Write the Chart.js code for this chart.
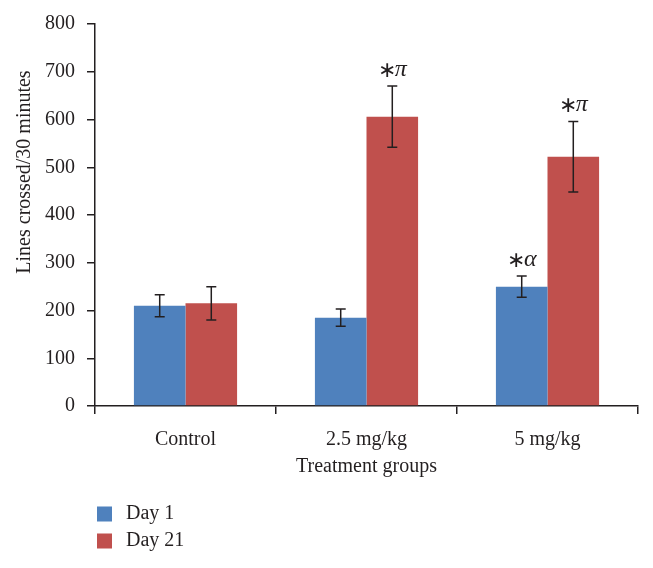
<!DOCTYPE html>
<html>
<head>
<meta charset="utf-8">
<script src="https://cdn.jsdelivr.net/npm/chart.js@4.4.1/dist/chart.umd.min.js"></script>
<style>
  html, body { margin: 0; padding: 0; background: #fff; }
  #wrap { width: 653px; height: 568px; position: relative; }
</style>
</head>
<body>
<div id="wrap"><canvas id="c" width="653" height="568"></canvas></div>
<script>
// ---- data ----
const categories = ['Control', '2.5 mg/kg', '5 mg/kg'];
const seriesNames = ['Day 1', 'Day 21'];
const day1 = [210, 185, 250];
const day1Err = [23, 18, 22];
const day21 = [215, 606, 522];
const day21Err = [35, 64, 74];
const day1Marks = ['', '', '∗α'];
const day21Marks = ['', '∗π', '∗π'];
const yTickValues = [0, 100, 200, 300, 400, 500, 600, 700, 800];
const yTitle = 'Lines crossed/30 minutes';
const xTitle = 'Treatment groups';

const BLUE = '#4F81BD';
const RED = '#C0504D';
const FONT = "'Liberation Serif', 'Times New Roman', serif";
const INK = '#231f20';

const errs = [day1Err, day21Err];
const marks = [day1Marks, day21Marks];

const overlay = {
  id: 'overlay',
  afterDatasetsDraw(chart) {
    const ctx = chart.ctx;
    const y = chart.scales.y;
    ctx.save();
    chart.data.datasets.forEach((ds, di) => {
      const meta = chart.getDatasetMeta(di);
      meta.data.forEach((bar, i) => {
        const v = ds.data[i], e = errs[di][i];
        const yt = y.getPixelForValue(v + e);
        const yb = y.getPixelForValue(v - e);
        const x = bar.x;
        ctx.strokeStyle = INK;
        ctx.lineWidth = 1.5;
        ctx.beginPath();
        ctx.moveTo(x, yt); ctx.lineTo(x, yb);
        ctx.moveTo(x - 5, yt); ctx.lineTo(x + 5, yt);
        ctx.moveTo(x - 5, yb); ctx.lineTo(x + 5, yb);
        ctx.stroke();
        const m = marks[di][i];
        if (m) {
          const star = m[0], greek = m.slice(1);
          ctx.fillStyle = INK;
          ctx.textBaseline = 'alphabetic';
          ctx.font = '22px ' + FONT;
          const w1 = ctx.measureText(star).width;
          ctx.font = 'italic 24px ' + FONT;
          const w2 = ctx.measureText(greek).width;
          const gap = -1;
          const x0 = x - (w1 + w2 + gap) / 2;
          const by = yt - 10;
          ctx.textAlign = 'left';
          ctx.font = '22px ' + FONT;
          ctx.fillText(star, x0, by + 1);
          ctx.font = 'italic 24px ' + FONT;
          ctx.fillText(greek, x0 + w1 + gap, by);
        }
      });
    });
    ctx.restore();
  },
  afterDraw(chart) {
    const ctx = chart.ctx;
    ctx.save();
    ctx.fillStyle = INK;
    ctx.font = '20px ' + FONT;
    // y title
    ctx.save();
    ctx.translate(25, 172);
    ctx.rotate(-Math.PI / 2);
    ctx.textAlign = 'center';
    ctx.textBaseline = 'middle';
    ctx.fillText(yTitle, 0, 0);
    ctx.restore();
    // x title
    ctx.textAlign = 'center';
    ctx.textBaseline = 'middle';
    const ca = chart.chartArea;
    ctx.fillText(xTitle, (ca.left + ca.right) / 2, 467);
    // legend
    const cols = [BLUE, RED];
    const rows = [514, 541];
    seriesNames.forEach((n, i) => {
      ctx.fillStyle = cols[i];
      ctx.fillRect(97, rows[i] - 7.5, 15, 15);
      ctx.fillStyle = INK;
      ctx.textAlign = 'left';
      ctx.fillText(n, 126, rows[i]);
    });
    ctx.restore();
  }
};

new Chart(document.getElementById('c'), {
  type: 'bar',
  data: {
    labels: categories,
    datasets: [
      { label: seriesNames[0], data: day1, backgroundColor: BLUE, borderWidth: 0 },
      { label: seriesNames[1], data: day21, backgroundColor: RED, borderWidth: 0 }
    ]
  },
  options: {
    responsive: false,
    animation: false,
    events: [],
    layout: { padding: { top: 22, right: 15, left: 0, bottom: 0 } },
    plugins: { legend: { display: false }, tooltip: { enabled: false } },
    datasets: { bar: { categoryPercentage: 0.57, barPercentage: 1.0 } },
    scales: {
      x: {
        grid: { drawOnChartArea: false, drawTicks: true, tickLength: 8, color: INK, lineWidth: 1.5, offset: true },
        border: { color: INK, width: 1.5 },
        ticks: { color: INK, font: { family: FONT, size: 20 }, padding: 14, maxRotation: 0 },
        afterFit(s) { s.height = 162; }
      },
      y: {
        min: 0, max: 800,
        afterBuildTicks(s) { s.ticks = yTickValues.map(v => ({ value: v })); },
        grid: { drawOnChartArea: false, drawTicks: true, tickLength: 8, color: INK, lineWidth: 1.5 },
        border: { color: INK, width: 1.5 },
        ticks: { color: INK, font: { family: FONT, size: 20 }, padding: 12 },
        afterFit(s) { s.width = 95; }
      }
    }
  },
  plugins: [overlay]
});
</script>
</body>
</html>
